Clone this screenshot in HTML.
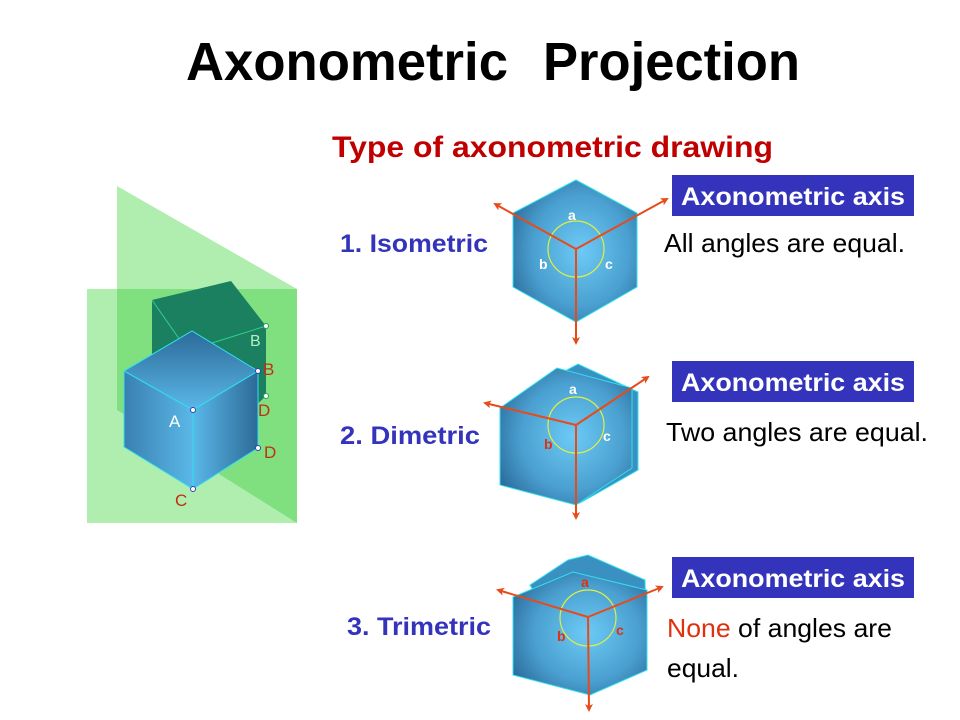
<!DOCTYPE html>
<html><head><meta charset="utf-8"><style>
html,body{margin:0;padding:0;background:#fff;width:960px;height:720px;overflow:hidden}
svg{display:block;font-family:"Liberation Sans",Arial,sans-serif}
</style></head><body>
<svg width="960" height="720" viewBox="0 0 960 720" xmlns="http://www.w3.org/2000/svg">
<defs>
<radialGradient id="bl" cx="0.55" cy="0.5" r="0.65">
<stop offset="0" stop-color="#6ccaf5"/><stop offset="0.6" stop-color="#4aa0d0"/><stop offset="1" stop-color="#2a6a9a"/></radialGradient>
<linearGradient id="tp" x1="0" y1="0" x2="0" y2="1"><stop offset="0" stop-color="#2c6a98"/><stop offset="1" stop-color="#5ab8e8"/></linearGradient>
<linearGradient id="lf" x1="0" y1="0" x2="1" y2="0"><stop offset="0" stop-color="#3a80b0"/><stop offset="1" stop-color="#5ab8e8"/></linearGradient>
<linearGradient id="rt" x1="0" y1="0" x2="1" y2="0"><stop offset="0" stop-color="#5ab8e8"/><stop offset="1" stop-color="#2c6a98"/></linearGradient>
<marker id="ar" markerWidth="8" markerHeight="8" refX="6" refY="4" orient="auto" markerUnits="userSpaceOnUse"><path d="M0,0 L8,4 L0,8 L2,4z" fill="#e84a1a"/></marker>
</defs>
<text x="186" y="80" font-size="54" font-weight="bold" textLength="322" lengthAdjust="spacingAndGlyphs">Axonometric</text>
<text x="543" y="80" font-size="54" font-weight="bold" textLength="257" lengthAdjust="spacingAndGlyphs">Projection</text>
<text x="332" y="157" font-size="30" font-weight="bold" fill="#c00000" textLength="441" lengthAdjust="spacingAndGlyphs">Type of axonometric drawing</text>

<!-- left planes -->
<polygon points="117,186 297,289 297,523 117,410" fill="#b0eeb0"/>
<rect x="87" y="289" width="210" height="234" fill="#b0eeb0"/>
<polygon points="117,289 297,289 297,523 117,410" fill="#80e080"/>
<polygon points="152,300 231,281 266,326 266,396 240,420 152,400" fill="#1a8060"/>
<line x1="152" y1="300" x2="180" y2="340" stroke="#30d090" stroke-width="1"/>
<line x1="212" y1="343" x2="266" y2="326" stroke="#30d090" stroke-width="1"/>
<text x="250" y="346" font-size="16" fill="#b0f0c0">B</text>
<polygon points="124,371 192,331 258,371 193,410" fill="url(#tp)" stroke="#30e0f0"/>
<polygon points="124,371 193,410 193,489 124,447" fill="url(#lf)" stroke="#30e0f0"/>
<polygon points="193,410 258,371 258,448 193,489" fill="url(#rt)" stroke="#30e0f0"/>
<g fill="#fff" stroke="#3040c0"><circle cx="193" cy="410" r="2.5"/><circle cx="258" cy="371" r="2.5"/><circle cx="258" cy="448" r="2.5"/><circle cx="193" cy="489" r="2.5"/></g>
<g fill="#fff" stroke="#20a060"><circle cx="266" cy="326" r="2.5"/><circle cx="266" cy="396" r="2.5"/></g>
<text x="169" y="427" font-size="17" fill="#fff">A</text>
<g font-size="17" fill="#c03010"><text x="263" y="375">B</text><text x="258" y="416">D</text><text x="264" y="458">D</text><text x="175" y="506">C</text></g>

<!-- iso -->
<polygon points="576,180 637,213 637,287 576,322 513,287 513,213" fill="url(#bl)" stroke="#30e0f0"/>
<circle cx="576" cy="249" r="28" fill="none" stroke="#e0f040" stroke-width="1.2"/>
<g stroke="#e84a1a" stroke-width="2" marker-end="url(#ar)"><line x1="576" y1="249" x2="495" y2="204"/><line x1="576" y1="249" x2="667" y2="199"/><line x1="576" y1="249" x2="576" y2="343"/></g>
<g font-size="14" font-weight="bold" fill="#fff"><text x="568" y="220">a</text><text x="539" y="269">b</text><text x="605" y="269">c</text></g>

<!-- dimetric -->
<polygon points="520,395 578,364 638,392 638,470 580,503" fill="#3a90c0" stroke="#30e0f0"/>
<polygon points="500,408 557,368 632,388 632,468 576,505 500,485" fill="url(#bl)" stroke="#30e0f0"/>
<circle cx="576" cy="425" r="28" fill="none" stroke="#e0f040" stroke-width="1.2"/>
<g stroke="#e84a1a" stroke-width="2" marker-end="url(#ar)"><line x1="576" y1="425" x2="485" y2="403"/><line x1="576" y1="425" x2="648" y2="377"/><line x1="576" y1="425" x2="576" y2="518"/></g>
<g font-size="14" font-weight="bold"><text x="569" y="394" fill="#fff">a</text><text x="544" y="449" fill="#e03010">b</text><text x="603" y="441" fill="#fff">c</text></g>

<!-- trimetric -->
<polygon points="530,585 568,560 588,555 645,580 647,665 590,692" fill="#3a90c0" stroke="#30e0f0"/>
<polygon points="513,597 573,572 647,590 647,670 590,695 513,675" fill="url(#bl)" stroke="#30e0f0"/>
<circle cx="588" cy="618" r="28" fill="none" stroke="#e0f040" stroke-width="1.2"/>
<g stroke="#e84a1a" stroke-width="2" marker-end="url(#ar)"><line x1="588" y1="617" x2="498" y2="590"/><line x1="588" y1="617" x2="662" y2="587"/><line x1="588" y1="617" x2="589" y2="710"/></g>
<g font-size="14" font-weight="bold" fill="#e03010"><text x="581" y="587">a</text><text x="557" y="641">b</text><text x="616" y="635">c</text></g>

<!-- labels -->
<g font-size="25" font-weight="bold" fill="#3333bb"><text x="340" y="252" textLength="148" lengthAdjust="spacingAndGlyphs">1. Isometric</text><text x="340" y="444" textLength="140" lengthAdjust="spacingAndGlyphs">2. Dimetric</text><text x="347" y="635" textLength="144" lengthAdjust="spacingAndGlyphs">3. Trimetric</text></g>
<g fill="#3333bb"><rect x="672" y="175" width="242" height="41"/><rect x="672" y="361" width="242" height="41"/><rect x="672" y="557" width="242" height="41"/></g>
<g font-size="25" font-weight="bold" fill="#fff"><text x="681" y="205" textLength="224" lengthAdjust="spacingAndGlyphs">Axonometric axis</text><text x="681" y="391" textLength="224" lengthAdjust="spacingAndGlyphs">Axonometric axis</text><text x="681" y="587" textLength="224" lengthAdjust="spacingAndGlyphs">Axonometric axis</text></g>
<g font-size="26" fill="#000"><text x="664" y="252" textLength="241" lengthAdjust="spacingAndGlyphs">All angles are equal.</text><text x="666" y="441" textLength="262" lengthAdjust="spacingAndGlyphs">Two angles are equal.</text><text x="667" y="637" textLength="225" lengthAdjust="spacingAndGlyphs"><tspan fill="#e03010">None</tspan> of angles are</text><text x="667" y="677" textLength="72" lengthAdjust="spacingAndGlyphs">equal.</text></g>
</svg>
</body></html>
